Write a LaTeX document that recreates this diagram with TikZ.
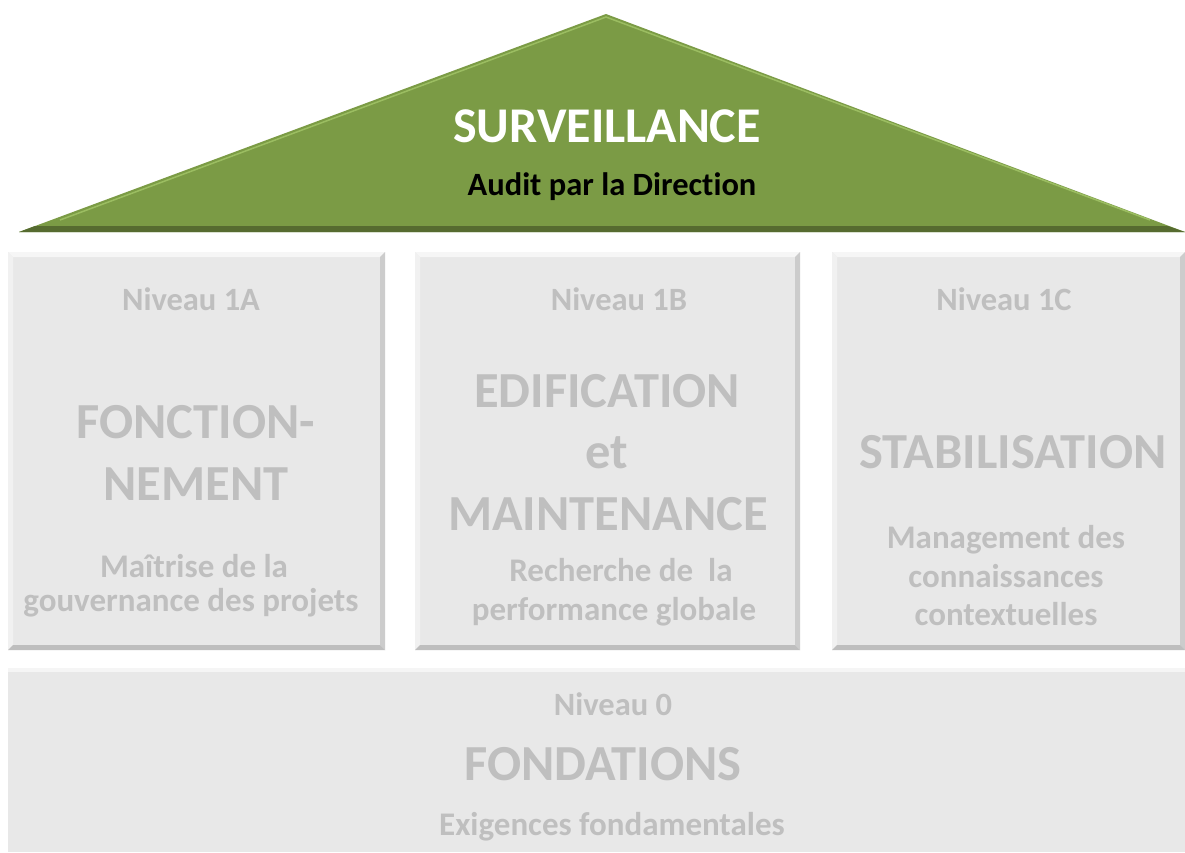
\documentclass[tikz,border=0pt]{standalone}
\usepackage{fontspec}
\setmainfont{Carlito}[Ligatures=NoCommon]
\definecolor{roofgreen}{HTML}{7B9B45}
\definecolor{roofdark}{HTML}{566B30}
\definecolor{roofhi}{HTML}{A9CC6E}
\definecolor{boxfill}{HTML}{E8E8E8}
\definecolor{boxtext}{HTML}{BFBFBF}
\newcommand{\bevbox}[4]{%
  \fill[boxfill] (#1,#2) rectangle (#3,#4);
  \fill[white!60!boxfill] (#1,#2) -- (#3,#2) -- (#3-5,#2+5) -- (#1+5,#2+5) -- cycle;
  \fill[white!40!boxfill] (#1,#2) -- (#1+5,#2+5) -- (#1+5,#4-5) -- (#1,#4) -- cycle;
  \fill[black!12!boxfill] (#3,#2) -- (#3,#4) -- (#3-5,#4-5) -- (#3-5,#2+5) -- cycle;
  \fill[black!18!boxfill] (#1,#4) -- (#3,#4) -- (#3-5,#4-5) -- (#1+5,#4-5) -- cycle;
}
\tikzset{
  niv/.style={anchor=base, text=boxtext, font=\bfseries\fontsize{32.5}{35}\selectfont},
  big/.style={anchor=base, text=boxtext, font=\bfseries\fontsize{50.5}{55}\selectfont},
  sub/.style={anchor=base, text=boxtext, font=\bfseries\fontsize{33}{36}\selectfont},
}
\begin{document}
\begin{tikzpicture}[x=1pt,y=-1pt]
\useasboundingbox (0,0) rectangle (1185,852);
\fill[white] (0,0) rectangle (1185,852);
% roof
\fill[roofgreen] (19,232) -- (606,14) -- (1185,232) -- cycle;
\fill[roofdark] (35,226) -- (1168,226) -- (1185,232) -- (19,232) -- cycle;
\draw[roofhi, line width=1.5pt, opacity=0.7] (60,220) -- (606,17) -- (1150,220);
\node[anchor=base, text=white, font=\bfseries\fontsize{50}{54}\selectfont] (surv) at (607,142) {SURVEILLANCE};
\node[anchor=base, text=black, font=\bfseries\fontsize{32.5}{35}\selectfont] (audit) at (612,195) {Audit par la Direction};
% boxes
\bevbox{8}{252}{385}{650}
\bevbox{415}{252}{800}{650}
\bevbox{832}{252}{1185}{650}
\fill[black!4] (8,668) rectangle (1185,672);
\fill[boxfill] (8,672) rectangle (1185,852);
% box 1
\node[niv] (n1a) at (191,310) {Niveau 1A};
\node[big] (f1) at (196,438) {FONCTION-};
\node[big] (f2) at (196,500) {NEMENT};
\node[sub] (m1) at (194,577) {Maîtrise de la};
\node[sub] (m2) at (191,611) {gouvernance des projets};
% box 2
\node[niv] (n1b) at (619,310) {Niveau 1B};
\node[big] (e1) at (607,407) {EDIFICATION};
\node[big] (e2) at (607,468) {et};
\node[big] (e3) at (608,530) {MAINTENANCE};
\node[sub] (r1) at (621,581) {Recherche de\ \ la};
\node[sub] (r2) at (614,620) {performance globale};
% box 3
\node[niv] (n1c) at (1004,310) {Niveau 1C};
\node[big] (s1) at (1013,468) {STABILISATION};
\node[sub] (g1) at (1006,548) {Management des};
\node[sub] (g2) at (1006,587) {connaissances};
\node[sub] (g3) at (1006,625) {contextuelles};
% bottom
\node[niv] (n0) at (613,715) {Niveau 0};
\node[big] (fo) at (603,780) {FONDATIONS};
\node[sub] (ex) at (612,835) {Exigences fondamentales};
\end{tikzpicture}
\end{document}
